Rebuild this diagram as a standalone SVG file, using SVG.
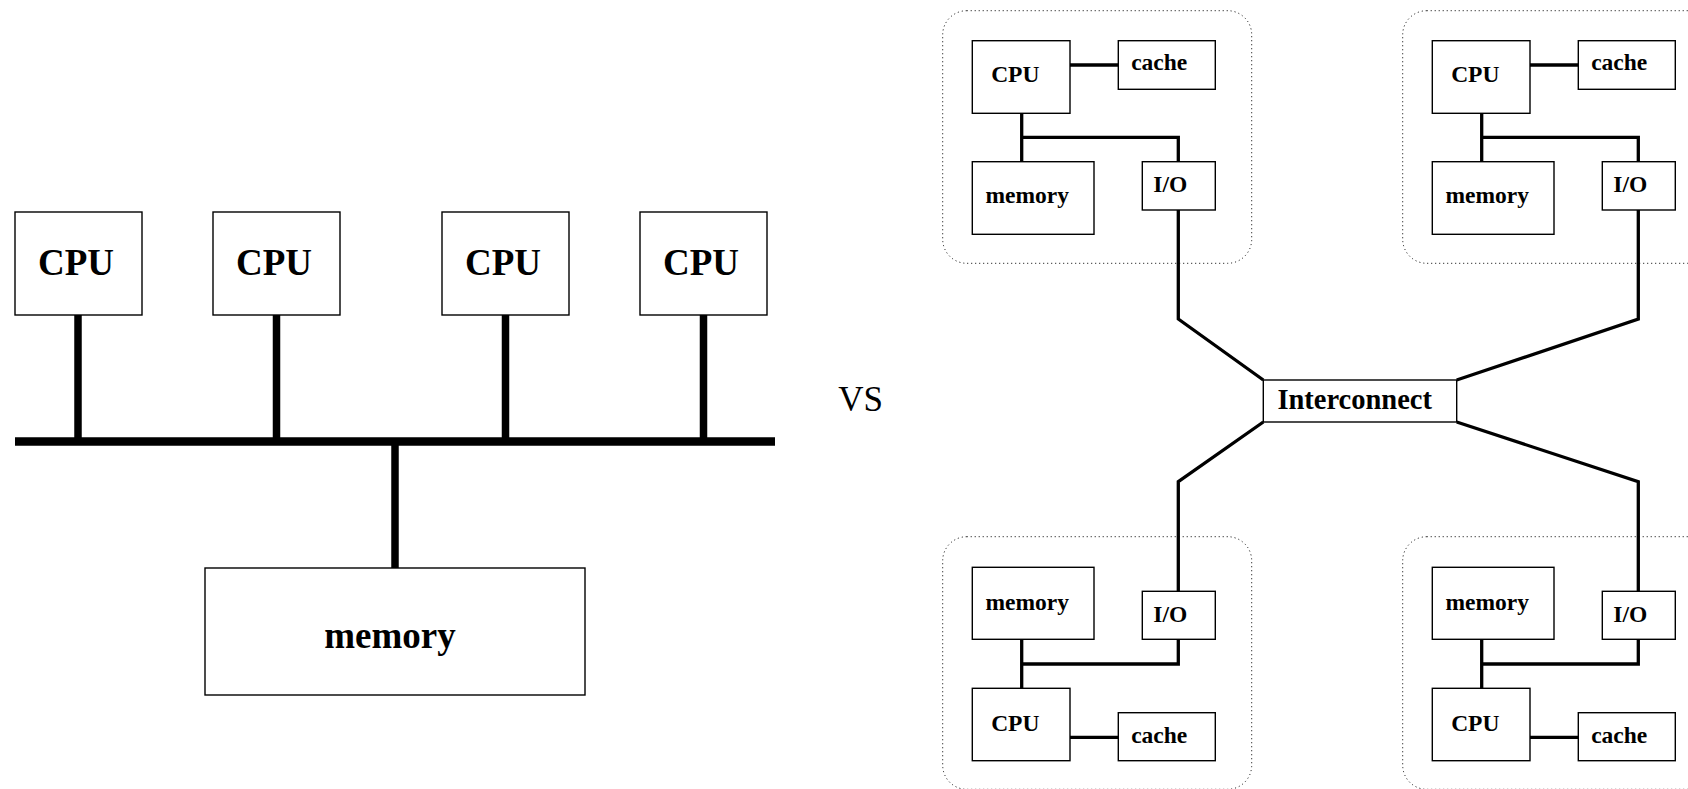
<svg xmlns="http://www.w3.org/2000/svg" width="1688" height="789" viewBox="0 0 1688 789">
<style>
.box{fill:#fff;stroke:#000;stroke-width:1.4}
.t{font-family:"Liberation Serif","Times New Roman",serif;font-weight:bold;fill:#000}
.big{font-size:37px}
.sm{font-size:23.5px}
.bus{stroke:#000;stroke-width:8.5;fill:none}
.stem{stroke:#000;stroke-width:7.5;fill:none}
.ln{stroke:#000;stroke-width:3.3;fill:none;stroke-linejoin:miter}
.grp{fill:none;stroke:#000;stroke-width:1;stroke-dasharray:1 3}
</style>
<rect width="1688" height="789" fill="#fff"/>
<g id="connectors">
<line class="bus" x1="15" y1="441.5" x2="775" y2="441.5"/>
<line class="stem" x1="78" y1="315" x2="78" y2="441"/>
<line class="stem" x1="276.5" y1="315" x2="276.5" y2="441"/>
<line class="stem" x1="505.5" y1="315" x2="505.5" y2="441"/>
<line class="stem" x1="703.5" y1="315" x2="703.5" y2="441"/>
<line class="stem" x1="395" y1="441" x2="395" y2="568"/>
<!-- top-left cluster -->
<path class="ln" d="M1070 65H1118.3"/>
<path class="ln" d="M1021.7 113.3V161.7M1021.7 137.3H1178.3V161.7"/>
<path class="ln" d="M1178.3 210V319L1263.3 380"/>
<!-- top-right cluster -->
<path class="ln" d="M1530 65H1578.3"/>
<path class="ln" d="M1481.7 113.3V161.7M1481.7 137.3H1638.3V161.7"/>
<path class="ln" d="M1638.3 210V319L1456.7 380"/>
<!-- bottom-left cluster -->
<path class="ln" d="M1070 737.3H1118.3"/>
<path class="ln" d="M1021.7 639.3V688.3M1021.7 664H1178.3V639.3"/>
<path class="ln" d="M1178.3 591.3V481.7L1263.3 422"/>
<!-- bottom-right cluster -->
<path class="ln" d="M1530 737.3H1578.3"/>
<path class="ln" d="M1481.7 639.3V688.3M1481.7 664H1638.3V639.3"/>
<path class="ln" d="M1638.3 591.3V481.7L1456.7 422"/>
</g>
<g id="cpu1"><rect class="box" x="15" y="212" width="127" height="103"/><text class="t big" x="76" y="275" text-anchor="middle">CPU</text></g>
<g id="cpu2"><rect class="box" x="213" y="212" width="127" height="103"/><text class="t big" x="274" y="275" text-anchor="middle">CPU</text></g>
<g id="cpu3"><rect class="box" x="442" y="212" width="127" height="103"/><text class="t big" x="503" y="275" text-anchor="middle">CPU</text></g>
<g id="cpu4"><rect class="box" x="640" y="212" width="127" height="103"/><text class="t big" x="701" y="275" text-anchor="middle">CPU</text></g>
<g id="memory"><rect class="box" x="205" y="568" width="380" height="127"/><text class="t big" x="390" y="648" text-anchor="middle">memory</text></g>
<g id="vs"><text x="860.5" y="410.5" text-anchor="middle" style="font-family:'Liberation Serif','Times New Roman',serif;font-size:35px;fill:#000">VS</text></g>
<g id="interconnect"><rect class="box" x="1263.3" y="380" width="193.4" height="42"/><text class="t" x="1354.7" y="409.3" text-anchor="middle" style="font-size:28.5px">Interconnect</text></g>
<g id="node-tl">
<rect class="grp" x="942.7" y="10.7" width="309" height="252.6" rx="24" ry="24"/>
<rect class="box" x="972.3" y="40.7" width="97.7" height="72.6"/><text class="t sm" x="1015.3" y="81.7" text-anchor="middle">CPU</text>
<rect class="box" x="1118.3" y="40.7" width="97" height="48.6"/><text class="t sm" x="1159.2" y="70" text-anchor="middle">cache</text>
<rect class="box" x="972.3" y="161.7" width="121.7" height="72.6"/><text class="t sm" x="1027.2" y="203.3" text-anchor="middle">memory</text>
<rect class="box" x="1142.3" y="161.7" width="73" height="48.3"/><text class="t sm" x="1170.3" y="191.7" text-anchor="middle">I/O</text>
</g>
<g id="node-tr">
<rect class="grp" x="1402.7" y="10.7" width="309" height="252.6" rx="24" ry="24"/>
<rect class="box" x="1432.3" y="40.7" width="97.7" height="72.6"/><text class="t sm" x="1475.3" y="81.7" text-anchor="middle">CPU</text>
<rect class="box" x="1578.3" y="40.7" width="97" height="48.6"/><text class="t sm" x="1619.2" y="70" text-anchor="middle">cache</text>
<rect class="box" x="1432.3" y="161.7" width="121.7" height="72.6"/><text class="t sm" x="1487.2" y="203.3" text-anchor="middle">memory</text>
<rect class="box" x="1602.3" y="161.7" width="73" height="48.3"/><text class="t sm" x="1630.3" y="191.7" text-anchor="middle">I/O</text>
</g>
<g id="node-bl">
<rect class="grp" x="942.7" y="536.7" width="309" height="252.6" rx="24" ry="24"/>
<rect class="box" x="972.3" y="567.3" width="121.7" height="72"/><text class="t sm" x="1027.2" y="610" text-anchor="middle">memory</text>
<rect class="box" x="1142.3" y="591.3" width="73" height="48"/><text class="t sm" x="1170.3" y="621.7" text-anchor="middle">I/O</text>
<rect class="box" x="972.3" y="688.3" width="97.7" height="72.4"/><text class="t sm" x="1015.3" y="730.7" text-anchor="middle">CPU</text>
<rect class="box" x="1118.3" y="712.7" width="97" height="48"/><text class="t sm" x="1159.2" y="742.7" text-anchor="middle">cache</text>
</g>
<g id="node-br">
<rect class="grp" x="1402.7" y="536.7" width="309" height="252.6" rx="24" ry="24"/>
<rect class="box" x="1432.3" y="567.3" width="121.7" height="72"/><text class="t sm" x="1487.2" y="610" text-anchor="middle">memory</text>
<rect class="box" x="1602.3" y="591.3" width="73" height="48"/><text class="t sm" x="1630.3" y="621.7" text-anchor="middle">I/O</text>
<rect class="box" x="1432.3" y="688.3" width="97.7" height="72.4"/><text class="t sm" x="1475.3" y="730.7" text-anchor="middle">CPU</text>
<rect class="box" x="1578.3" y="712.7" width="97" height="48"/><text class="t sm" x="1619.2" y="742.7" text-anchor="middle">cache</text>
</g>
</svg>
